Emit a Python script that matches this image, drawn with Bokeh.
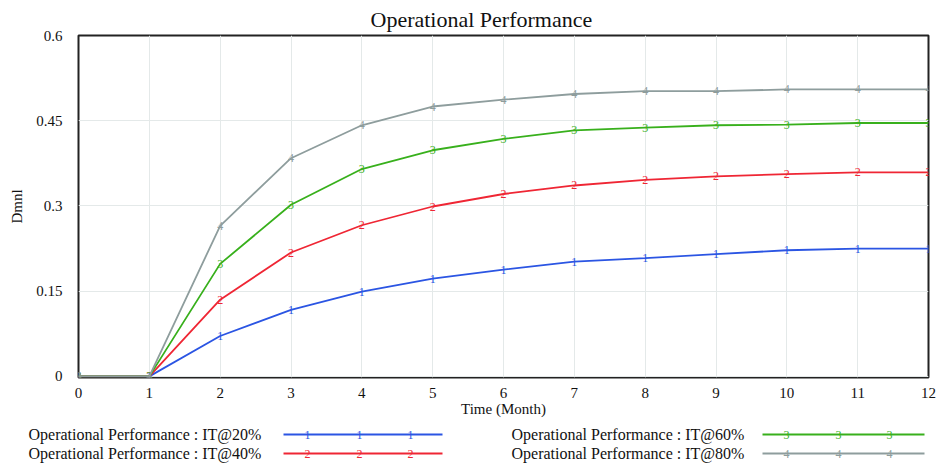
from bokeh.plotting import figure
from bokeh.models import Range1d, FixedTicker, ColumnDataSource
from bokeh.core.properties import value
from bokeh.embed import file_html
from bokeh.resources import INLINE

# ---- data ----
months = list(range(13))
y_ticks = [0, 0.15, 0.3, 0.45, 0.6]
y_tick_labels = ["0", "0.15", "0.3", "0.45", "0.6"]

series_names = [
    "Operational Performance : IT@20%",
    "Operational Performance : IT@40%",
    "Operational Performance : IT@60%",
    "Operational Performance : IT@80%",
]
series_markers = ["1", "2", "3", "4"]
series_colors = ["#2b55e3", "#ef2634", "#38b01c", "#8e9d9d"]

it20 = [0, 0, 0.071, 0.117, 0.149, 0.172, 0.188, 0.202, 0.208, 0.215, 0.222, 0.225, 0.225]
it40 = [0, 0, 0.135, 0.218, 0.266, 0.299, 0.321, 0.336, 0.346, 0.352, 0.356, 0.359, 0.359]
it60 = [0, 0, 0.198, 0.302, 0.365, 0.398, 0.418, 0.433, 0.438, 0.442, 0.443, 0.446, 0.446]
it80 = [0, 0, 0.265, 0.384, 0.442, 0.475, 0.487, 0.497, 0.502, 0.502, 0.505, 0.505, 0.505]
series_values = [it20, it40, it60, it80]

SERIF = "Liberation Serif"
W = 936

# ---- main chart ----
p = figure(width=W, height=422, x_range=Range1d(0, 12), y_range=Range1d(-0.002, 0.6),
           output_backend="svg", toolbar_location=None,
           min_border_left=78, min_border_right=8, min_border_top=35, min_border_bottom=45)
p.background_fill_color = "white"
p.border_fill_color = "white"

p.title.text = "Operational Performance"
p.title.align = "left"
p.title.offset = 292
p.title.standoff = 8
p.title.text_font = SERIF
p.title.text_font_style = "normal"
p.title.text_font_size = "22px"
p.title.text_color = "#111111"

p.outline_line_color = "#222222"
p.outline_line_width = 2

p.xaxis.ticker = FixedTicker(ticks=months)
p.yaxis.ticker = FixedTicker(ticks=y_ticks)
p.yaxis.major_label_overrides = {t: l for t, l in zip(y_ticks, y_tick_labels)}
for ax in (p.xaxis[0], p.yaxis[0]):
    ax.axis_line_color = None
    ax.major_tick_line_color = None
    ax.minor_tick_line_color = None
    ax.major_tick_out = 0
    ax.major_tick_in = 0
    ax.minor_tick_out = 0
    ax.major_label_text_font = SERIF
    ax.major_label_text_font_size = "15px"
    ax.major_label_text_color = "#111111"
    ax.axis_label_text_font = SERIF
    ax.axis_label_text_font_size = "15px"
    ax.axis_label_text_font_style = "normal"
    ax.axis_label_text_color = "#111111"

p.xaxis.axis_label = "Time (Month)"
p.xaxis.major_label_standoff = 10
p.xaxis.axis_label_standoff = 0
p.yaxis.axis_label = "Dmnl"
p.yaxis.major_label_standoff = 16
p.yaxis.axis_label_standoff = 8

p.grid.grid_line_color = "#e4e9e9"
p.grid.grid_line_width = 1

for vals, col, mk in zip(series_values, series_colors, series_markers):
    src = ColumnDataSource(dict(x=months, y=vals, t=[mk] * len(months)))
    p.line("x", "y", source=src, line_color=col, line_width=1.8)
    p.text("x", "y", text="t", source=src, text_color=col, text_font=value(SERIF),
           text_font_size="12px", text_align="center", text_baseline="middle")

# ---- legend strip (separate root, not frame-aligned) ----
LH = 44
lf = figure(width=W, height=LH, x_range=Range1d(0, W), y_range=Range1d(LH, 0),
            output_backend="svg", toolbar_location=None,
            x_axis_location=None, y_axis_location=None, min_border=0)
lf.outline_line_color = None
lf.grid.visible = False
lf.background_fill_color = "white"
lf.border_fill_color = "white"

leg_text_x = [28, 28, 511, 511]
leg_y = [12, 31, 12, 31]
leg_line_x0 = [283, 283, 762, 762]
leg_line_x1 = [442, 442, 924, 924]
leg_mark_dx = [24, 76, 127]

lf.text(x=leg_text_x, y=leg_y, text=series_names, text_font=value(SERIF),
        text_font_size="16px", text_color="#111111", text_align="left", text_baseline="middle")
for i in range(4):
    lf.line([leg_line_x0[i], leg_line_x1[i]], [leg_y[i], leg_y[i]],
            line_color=series_colors[i], line_width=1.8)
    lf.text(x=[leg_line_x0[i] + d for d in leg_mark_dx], y=[leg_y[i]] * 3,
            text=[series_markers[i]] * 3, text_color=series_colors[i], text_font=value(SERIF),
            text_font_size="12px", text_align="center", text_baseline="middle")

open("out.html", "w").write(file_html([p, lf], INLINE))
